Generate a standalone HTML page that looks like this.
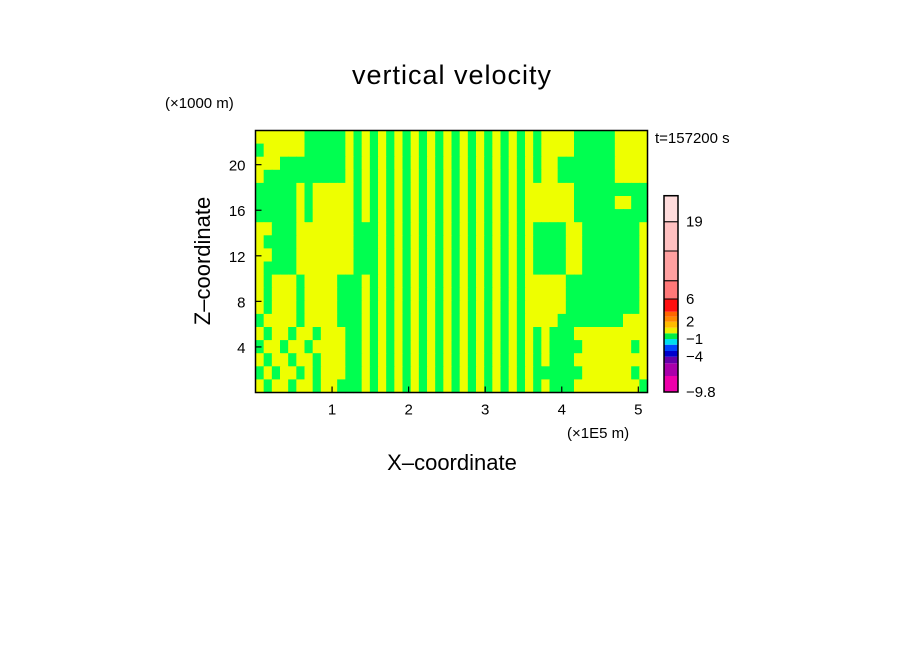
<!DOCTYPE html>
<html><head><meta charset="utf-8"><style>
body{margin:0;background:#fff;}
svg text{font-family:"Liberation Sans",sans-serif;fill:#000;}
</style></head><body>
<svg id="chart" width="904" height="654" viewBox="0 0 904 654" xmlns="http://www.w3.org/2000/svg">
<rect width="904" height="654" fill="#fff"/>
<text x="452" y="84" font-size="27" text-anchor="middle" letter-spacing="1">vertical velocity</text>
<text x="165" y="108" font-size="15">(×1000 m)</text>
<text x="655" y="143" font-size="15">t=157200 s</text>
<text x="567" y="438" font-size="15">(×1E5 m)</text>
<text x="452" y="470" font-size="22" text-anchor="middle">X–coordinate</text>
<text x="0" y="0" font-size="22" text-anchor="middle" transform="translate(210,261) rotate(-90)">Z–coordinate</text>
<g id="field"></g>
<rect x="255.5" y="130.5" width="392" height="262" fill="none" stroke="#000" stroke-width="1.5"/>
<g id="axes"></g>
<g id="cbar"></g>
</svg>
<script>
const xTicks=[1,2,3,4,5];
const zTicks=[4,8,12,16,20];
const xMax=5.12, zMax=23;
const fieldRows=[
"YYYYYYGGGGGYGYGYGYGYGYGYGYGYGYGYGYGYYYYGGGGGYYYY",
"GYYYYYGGGGGYGYGYGYGYGYGYGYGYGYGYGYGYYYYGGGGGYYYY",
"YYYGGGGGGGGYGYGYGYGYGYGYGYGYGYGYGYGYYGGGGGGGYYYYYY".slice(0,48),
"YGGGGGGGGGGYGYGYGYGYGYGYGYGYGYGYGYGYYGGGGGGGYYYYYY".slice(0,48),
"GGGGGYGYYYYYGYGYGYGYGYGYGYGYGYGYGYYYYYYGGGGGGGGG",
"GGGGGYGYYYYYGYGYGYGYGYGYGYGYGYGYGYYYYYYGGGGGYYGG",
"GGGGGYGYYYYYGYGYGYGYGYGYGYGYGYGYGYYYYYYGGGGGGGGG",
"YYGGGYYYYYYYGGGYGYGYGYGYGYGYGYGYGYGGGGYYGGGGGGGY",
"YGGGGYYYYYYYGGGYGYGYGYGYGYGYGYGYGYGGGGYYGGGGGGGY",
"YYGGGYYYYYYYGGGYGYGYGYGYGYGYGYGYGYGGGGYYGGGGGGGY",
"YGGGGYYYYYYYGGGYGYGYGYGYGYGYGYGYGYGGGGYYGGGGGGGY",
"YGYYYGYYYYGGGYGYGYGYGYGYGYGYGYGYGYYYYYGGGGGGGGGY",
"YGYYYGYYYYGGGYGYGYGYGYGYGYGYGYGYGYYYYYGGGGGGGGGY",
"YGYYYGYYYYGGGYGYGYGYGYGYGYGYGYGYGYYYYYGGGGGGGGGY",
"GYYYYGYYYYGGGYGYGYGYGYGYGYGYGYGYGYYYYGGGGGGGGYYY",
"YGYYGYYGYYYGGYGYGYGYGYGYGYGYGYGYGYGYGGGYYYYYYYYY",
"GYYGYYGYYYYGGYGYGYGYGYGYGYGYGYGYGYGYGGGGYYYYYYGY",
"YGYYGYYGYYYGGYGYGYGYGYGYGYGYGYGYGYGYGGGYYYYYYYYY",
"GYGYYGYGYYYGGYGYGYGYGYGYGYGYGYGYGYGGGGGGYYYYYYGY",
"YGYYGYYGYYGGGYGYGYGYGYGYGYGYGYGYGYGYGGGYYYYYYYYG"
];
const cbarColors=["#ee00aa","#aa00aa","#6600aa","#0000cc","#0044ff","#00ddee","#00ee44","#eeee00","#ffbb00","#ff8800","#ff6600","#ff1010","#ff7878","#ffa0a0","#ffc0c0","#ffdcdc"];
const cbarLabels=[{t:"19",i:15},{t:"6",i:12},{t:"2",i:9},{t:"−1",i:6},{t:"−4",i:3},{t:"−9.8",i:0}];
const cbarBounds=[392,376,363.3,356.7,351,344.7,339,333.3,327.7,321.7,316.7,311.7,299,280.7,251,221.7,195.7];

const NS="http://www.w3.org/2000/svg";
const X0=255.5,X1=647.5,Y0=392.5,Y1=130.5;
const sx=v=>X0+(v/xMax)*(X1-X0);
const sz=v=>Y0-(v/zMax)*(Y0-Y1);
function mk(tag,attrs,parent){const e=document.createElementNS(NS,tag);for(const k in attrs)e.setAttribute(k,attrs[k]);parent.appendChild(e);return e;}

const field=document.getElementById('field');
const nr=fieldRows.length,nc=48;
const cw=(X1-X0)/nc,rh=(Y0-Y1)/nr;
fieldRows.forEach((row,r)=>{
  for(let c=0;c<nc;c++){
    const ch=row[c]||'G';
    const e=mk('rect',{x:X0+c*cw,y:Y1+r*rh,width:cw+0.6,height:rh+0.6,fill:ch==='Y'?'#eeff00':'#00ff50'},field);
    
    
  }
});

const axes=document.getElementById('axes');
xTicks.forEach(v=>{
  const l=mk('line',{x1:sx(v),x2:sx(v),y1:Y0,y2:Y0-6,stroke:'#000','stroke-width':1.2},axes);
  
  
  const t=mk('text',{x:sx(v),y:Y0+22,'font-size':15,'text-anchor':'middle'},axes);
  t.textContent=v;
  
  
});
zTicks.forEach(v=>{
  const l=mk('line',{x1:X0,x2:X0+6,y1:sz(v),y2:sz(v),stroke:'#000','stroke-width':1.2},axes);
  
  
  const t=mk('text',{x:X0-10,y:sz(v)+6,'font-size':15,'text-anchor':'end'},axes);
  t.textContent=v;
  
  
});

const cbar=document.getElementById('cbar');
cbarColors.forEach((col,i)=>{
  const yb=cbarBounds[i],yt=cbarBounds[i+1];
  const e=mk('rect',{x:664,y:yt,width:14,height:yb-yt,fill:col,stroke:'#000','stroke-width':(i>=12?1:0)},cbar);
  
  
});
const fr=mk('rect',{x:664,y:195.7,width:14,height:196.3,fill:'none',stroke:'#000','stroke-width':1.5},cbar);


cbarLabels.forEach(o=>{
  const y=cbarBounds[o.i];
  const t=mk('text',{x:686,y:y+5,'font-size':15},cbar);
  t.textContent=o.t;
  
  
});
</script>
</body></html>
